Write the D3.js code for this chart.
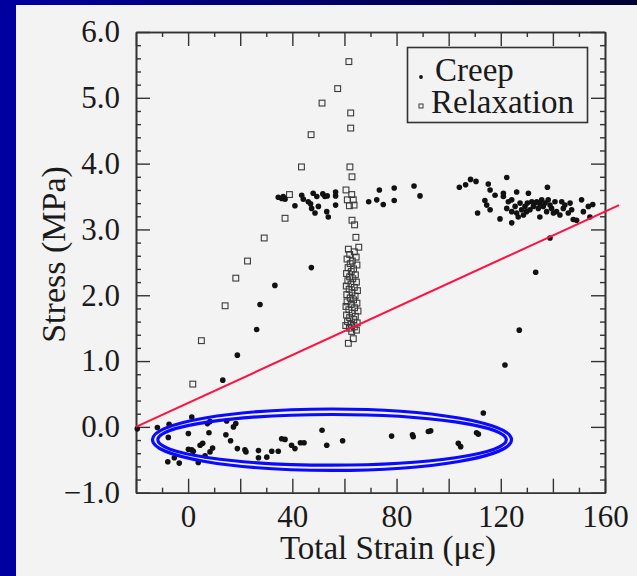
<!DOCTYPE html>
<html>
<head>
<meta charset="utf-8">
<script src="https://cdn.jsdelivr.net/npm/d3@7/dist/d3.min.js"></script>
<style>
  html, body { margin: 0; padding: 0; background: #0000a0; }
  svg { display: block; }
</style>
</head>
<body>
<svg id="chart" width="637" height="576"></svg>
<script>
// ---------------- data ----------------
const creep = [
  // near-zero group
  [-19.5,-0.03],[-11.8,-0.01],[-7.3,0.04],[-7.6,-0.16],[-7.8,-0.53],[-5.3,-0.47],[-3.4,-0.55],
  [0.1,-0.10],[1.4,0.15],[0.1,-0.34],[1.4,-0.35],[2.0,-0.37],[3.9,-0.54],[4.6,-0.28],[5.6,-0.25],
  [6.5,-0.44],[7.4,0.05],[8.4,0.08],[8.0,-0.09],[8.4,-0.38],[9.4,-0.32],[14.8,0.09],[14.5,-0.12],
  [16.3,-0.21],[17.4,0.00],[18.3,0.05],[18.9,-0.33],[21.8,-0.35],[22.2,-0.38],[27.0,-0.36],[27.0,-0.47],
  [30.2,-0.46],[32.1,-0.37],[34.6,-0.37],[35.9,-0.18],[37.2,-0.19],[39.7,-0.28],[41.0,-0.33],[43.1,-0.24],
  [44.5,-0.24],[51.4,-0.05],[53.2,-0.28],[59.3,-0.21],[78.1,-0.14],[86.1,-0.12],[86.4,-0.15],[92.2,-0.07],
  [93.1,-0.06],[103.7,-0.25],[104.6,-0.30],[110.7,-0.09],[111.4,-0.11],[113.3,0.21],
  // rising branch
  [13.3,0.71],[18.9,1.09],[26.3,1.48],[27.6,1.86],[33.3,2.15],[47.3,2.42],
  // right outliers
  [121.6,0.94],[127.1,1.47],[133.4,2.35],[138.9,2.87],
  // middle cluster
  [34.6,3.49],[35.9,3.47],[37.2,3.46],[36.5,3.50],[41.0,3.36],[43.6,3.52],[44.2,3.46],[46.1,3.42],
  [47.0,3.39],[48.0,3.55],[49.4,3.50],[47.4,3.32],[48.7,3.25],[50.0,3.35],[51.7,3.54],[52.5,3.50],
  [53.4,3.51],[53.2,3.27],[53.8,3.19],[56.6,3.57],[56.6,3.51],[56.6,3.37],[69.3,3.42],[72.4,3.45],
  [73.4,3.60],[74.9,3.38],[79.1,3.63],[79.1,3.44],[86.7,3.66],[89.0,3.51],
  // right cluster
  [104.1,3.64],[106.5,3.68],[108.4,3.76],[110.5,3.73],[115.2,3.69],[115.9,3.60],[117.8,3.52],[122.3,3.79],
  [121.0,3.55],[121.0,3.50],[126.1,3.57],[130.6,3.55],[137.9,3.64],[111.1,3.25],[113.9,3.44],[114.6,3.37],
  [115.9,3.30],[119.7,3.16],[124.2,3.10],[122.9,3.42],[124.2,3.45],[122.3,3.32],[124.2,3.27],[125.5,3.35],
  [126.1,3.25],[127.4,3.40],[126.7,3.19],[128.0,3.30],[128.7,3.22],[129.3,3.35],[129.9,3.27],[130.2,3.40],
  [131.2,3.30],[131.9,3.42],[132.5,3.35],[133.1,3.40],[133.8,3.42],[134.4,3.32],[135.0,3.39],[135.0,3.19],
  [135.7,3.45],[136.3,3.35],[137.0,3.40],[137.6,3.27],[138.2,3.45],[138.9,3.37],[139.5,3.32],[140.2,3.25],
  [140.8,3.42],[141.4,3.27],[142.7,3.22],[143.4,3.42],[144.0,3.32],[144.6,3.37],[145.9,3.25],[146.6,3.40],
  [147.2,3.30],[147.8,3.15],[149.1,3.14],[151.0,3.45],[151.7,3.27],[153.6,3.35],[155.3,3.38],[154.2,3.19]
];

const relaxation = [
  // loading branch
  [1.8,0.65],[5.1,1.31],[14.2,1.84],[18.3,2.26],[22.8,2.52],[29.2,2.87],[37.2,3.17],[38.9,3.53],
  [43.5,3.95],[47.2,4.44],[51.4,4.92],[57.4,5.14],[61.7,5.55],
  // relaxation column
  [62.4,4.77],[62.4,4.54],[62.1,3.95],[62.9,3.80],[60.6,3.60],[62.8,3.53],[61.1,3.45],[63.4,3.45],
  [61.9,3.36],[63.7,3.37],[62.9,3.14],[63.9,3.07],[64.4,2.88],[65.5,2.73],
  [61.5,2.70],[63.8,2.66],[62.0,2.62],[64.5,2.58],[61.0,2.55],[63.0,2.52],[62.2,2.48],[64.8,2.46],
  [61.4,2.42],[63.5,2.40],[62.6,2.36],[60.8,2.33],[64.2,2.31],[62.0,2.28],[63.2,2.25],[61.3,2.22],
  [64.6,2.20],[62.5,2.17],[60.7,2.14],[63.8,2.12],[61.8,2.09],[65.0,2.07],[62.9,2.04],[60.9,2.01],
  [64.1,1.99],[62.2,1.96],[63.5,1.93],[61.0,1.90],[64.8,1.88],[62.6,1.86],[60.6,1.83],[63.9,1.81],
  [61.7,1.78],[65.2,1.76],[62.9,1.73],[60.8,1.70],[64.2,1.68],[62.0,1.66],[63.6,1.63],[61.2,1.60],
  [64.9,1.58],[62.5,1.56],[60.5,1.54],[63.8,1.52],[61.9,1.50],[64.6,1.47],[62.8,1.45],[63.4,1.34],[61.5,1.27]
];

const fitLine = [[-20, 0.0], [165.4, 3.37]];
// annotation ellipses: [centerX, centerY, radiusX, radiusY] in data units
const ellipses = [[55.2, -0.195, 68.9, 0.467], [55.25, -0.197, 66.9, 0.385]];

const xDomain = [-20, 160];
const yDomain = [-1, 6];
const xMajorTicks = [-20, 0, 20, 40, 60, 80, 100, 120, 140, 160];
const xMinorTicks = [-10, 10, 30, 50, 70, 90, 110, 130, 150];
const xLabelTicks = [0, 40, 80, 120, 160];
const yMajorTicks = [-1, 0, 1, 2, 3, 4, 5, 6];
const yMinorTicks = d3.range(-0.8, 6, 0.2).filter(v => Math.abs(v - Math.round(v)) > 0.05);
const legendItems = ["Creep", "Relaxation"];
const xTitle = "Total Strain (\u03bc\u03b5)";
const yTitle = "Stress (MPa)";

// ---------------- drawing ----------------
const svg = d3.select("#chart");
const defs = svg.append("defs");
const grad = defs.append("linearGradient").attr("id", "topgrad").attr("x1", "0").attr("x2", "1");
grad.append("stop").attr("offset", "0").attr("stop-color", "#0000a0");
grad.append("stop").attr("offset", "1").attr("stop-color", "#000033");

svg.append("rect").attr("x", 0).attr("y", 0).attr("width", 637).attr("height", 576).attr("fill", "#0000a0");
svg.append("rect").attr("x", 0).attr("y", 0).attr("width", 637).attr("height", 6).attr("fill", "url(#topgrad)");
svg.append("rect").attr("x", 16).attr("y", 5).attr("width", 621).attr("height", 571).attr("fill", "#f3f3f3");

const L = 136, R = 605, T = 32, B = 492.7;
const x = d3.scaleLinear().domain(xDomain).range([L, R]);
const y = d3.scaleLinear().domain(yDomain).range([B, T]);

const font = "'Liberation Serif', 'Times New Roman', serif";
const axisColor = "#333";

function styleAxis(g) {
  g.selectAll("path.domain").attr("stroke", axisColor).attr("stroke-width", 1.6);
  g.selectAll(".tick line").attr("stroke", axisColor).attr("stroke-width", 1.4);
  g.selectAll(".tick text").attr("fill", "#1a1a1a").style("font-family", font).style("font-size", "31px");
}

// minor ticks (all four sides)
svg.append("g").attr("transform", `translate(0,${B})`)
  .call(d3.axisBottom(x).tickValues(xMinorTicks).tickSize(-5).tickSizeOuter(0).tickFormat(""))
  .call(styleAxis);
svg.append("g").attr("transform", `translate(0,${T})`)
  .call(d3.axisTop(x).tickValues(xMinorTicks).tickSize(-5).tickSizeOuter(0).tickFormat(""))
  .call(styleAxis);
svg.append("g").attr("transform", `translate(${L},0)`)
  .call(d3.axisLeft(y).tickValues(yMinorTicks).tickSize(-5).tickSizeOuter(0).tickFormat(""))
  .call(styleAxis);
svg.append("g").attr("transform", `translate(${R},0)`)
  .call(d3.axisRight(y).tickValues(yMinorTicks).tickSize(-5).tickSizeOuter(0).tickFormat(""))
  .call(styleAxis);

// major ticks
svg.append("g").attr("transform", `translate(0,${B})`)
  .call(d3.axisBottom(x).tickValues(xMajorTicks).tickSize(-14).tickSizeOuter(0).tickPadding(12)
    .tickFormat(d => xLabelTicks.includes(d) ? d3.format("d")(d) : ""))
  .call(styleAxis);
svg.append("g").attr("transform", `translate(0,${T})`)
  .call(d3.axisTop(x).tickValues(xMajorTicks).tickSize(-14).tickSizeOuter(0).tickFormat(""))
  .call(styleAxis);
svg.append("g").attr("transform", `translate(${L},0)`)
  .call(d3.axisLeft(y).tickValues(yMajorTicks).tickSize(-14).tickSizeOuter(0).tickPadding(16)
    .tickFormat(d3.format(".1f")))
  .call(styleAxis);
svg.append("g").attr("transform", `translate(${R},0)`)
  .call(d3.axisRight(y).tickValues(yMajorTicks).tickSize(-14).tickSizeOuter(0).tickFormat(""))
  .call(styleAxis);

// relaxation squares
const sq = 5.8;
svg.append("g").selectAll("rect").data(relaxation).join("rect")
  .attr("x", d => x(d[0]) - sq / 2).attr("y", d => y(d[1]) - sq / 2)
  .attr("width", sq).attr("height", sq)
  .attr("fill", "none").attr("stroke", "#3a3a3a").attr("stroke-width", 1.1);

// creep dots
svg.append("g").selectAll("circle").data(creep).join("circle")
  .attr("cx", d => x(d[0])).attr("cy", d => y(d[1])).attr("r", 2.8)
  .attr("fill", "#111");

// red line
svg.append("path").datum(fitLine)
  .attr("d", d3.line().x(d => x(d[0])).y(d => y(d[1])))
  .attr("fill", "none").attr("stroke", "#ff1040").attr("stroke-width", 2);

// blue ellipses
svg.append("g").selectAll("ellipse").data(ellipses).join("ellipse")
  .attr("cx", d => x(d[0])).attr("cy", d => y(d[1]))
  .attr("rx", d => x(xDomain[0] + d[2]) - x(xDomain[0]))
  .attr("ry", d => y(yDomain[0]) - y(yDomain[0] + d[3]))
  .attr("fill", "none").attr("stroke", "#0a0aff").attr("stroke-width", 3.2);

// legend
const lg = svg.append("g");
lg.append("rect").attr("x", 407.5).attr("y", 47.5).attr("width", 180).attr("height", 75)
  .attr("fill", "none").attr("stroke", axisColor).attr("stroke-width", 1.6);
lg.append("circle").attr("cx", 421).attr("cy", 77).attr("r", 1.9).attr("fill", "#111");
lg.append("rect").attr("x", 419).attr("y", 104).attr("width", 4).attr("height", 4)
  .attr("fill", "none").attr("stroke", "#3a3a3a").attr("stroke-width", 1);
lg.selectAll("text").data(legendItems).join("text")
  .attr("x", (d, i) => i === 0 ? 435 : 431)
  .attr("y", (d, i) => i === 0 ? 81 : 113)
  .text(d => d)
  .attr("fill", "#1a1a1a").style("font-family", font).style("font-size", "33px");

// axis titles
svg.append("text").attr("x", 388).attr("y", 559).attr("text-anchor", "middle")
  .text(xTitle).attr("fill", "#1a1a1a").style("font-family", font).style("font-size", "33px");
svg.append("text").attr("transform", "translate(65,254.5) rotate(-90)").attr("text-anchor", "middle")
  .text(yTitle).attr("fill", "#1a1a1a").style("font-family", font).style("font-size", "34px");
</script>
</body>
</html>
